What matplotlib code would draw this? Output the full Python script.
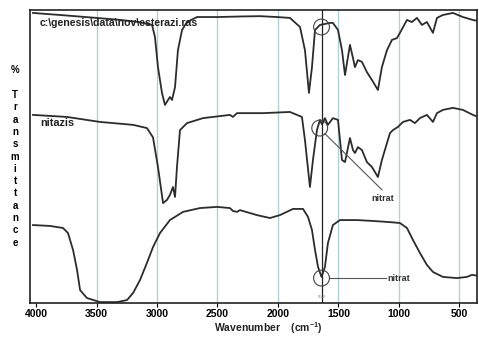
import matplotlib
matplotlib.use('Agg')
import matplotlib.pyplot as plt
import numpy as np

plt.rcParams['font.family'] = ['Liberation Sans', 'DejaVu Sans']
plt.rcParams['mathtext.default'] = 'regular'

# spectra: wavenumber (cm-1), % transmittance (arbitrary 0-100 scale)
ester_wn = [4025, 3900, 3800, 3650, 3500, 3300, 3150, 3041, 3017, 2992, 2959, 2934, 2909,
            2893, 2876, 2851, 2827, 2793, 2752, 2669, 2500, 2300, 2150, 2008, 1901, 1818,
            1777, 1744, 1719, 1694, 1653, 1570, 1546, 1504, 1471, 1446, 1405, 1380, 1364,
            1339, 1306, 1265, 1223, 1174, 1141, 1099, 1058, 1017, 992, 934, 893, 851, 810,
            769, 719, 686, 637, 554, 471, 389, 364]
ester_t = [99.0, 98.6, 98.3, 97.8, 97.3, 96.6, 95.9, 94.9, 90.8, 80.5, 71.7, 67.6, 69.3,
           70.3, 69.3, 73.7, 86.3, 93.2, 95.9, 97.6, 97.6, 97.8, 97.9, 97.6, 97.3, 94.2,
           86.3, 71.7, 80.5, 93.2, 94.9, 95.6, 95.6, 93.2, 86.3, 77.8, 88.1, 83.6, 80.5,
           82.9, 82.3, 78.8, 76.1, 72.7, 80.5, 86.3, 89.8, 90.4, 92.2, 96.6, 95.9, 97.3, 94.9,
           95.9, 92.2, 97.3, 98.3, 99.0, 97.6, 96.6, 96.4]

nitazis_wn = [4025, 3744, 3471, 3198, 3083, 3033, 2992, 2950, 2917, 2893, 2868, 2851, 2835,
              2810, 2752, 2620, 2397, 2372, 2339, 2124, 1901, 1802, 1777, 1736, 1711, 1678,
              1653, 1636, 1612, 1587, 1546, 1504, 1471, 1446, 1405, 1380, 1364, 1339, 1306,
              1265, 1223, 1174, 1141, 1099, 1074, 1050, 1008, 967, 909, 868, 827, 769, 719,
              686, 637, 554, 471, 389, 364]
nitazis_t = [64.2, 63.5, 61.8, 60.8, 59.7, 56.5, 46.4, 34.1, 35.2, 36.9, 39.6, 36.2, 46.4,
             59.0, 61.4, 63.1, 64.2, 63.5, 64.8, 64.8, 65.2, 63.5, 55.6, 39.6, 48.8, 59.0,
             62.5, 61.0, 63.1, 60.8, 63.1, 62.5, 48.8, 48.1, 56.3, 52.2, 51.2, 53.2, 52.2,
             48.1, 46.4, 43.0, 48.8, 54.6, 58.0, 59.0, 60.1, 61.8, 62.5, 61.4, 63.1, 64.2, 61.8,
             64.8, 65.9, 66.6, 65.9, 64.2, 63.8]

water_wn = [4025, 3884, 3777, 3736, 3694, 3661, 3636, 3579, 3471, 3331, 3248, 3198, 3141,
            3083, 3033, 2975, 2893, 2785, 2645, 2504, 2397, 2372, 2339, 2314, 2174, 2066,
            1984, 1876, 1793, 1752, 1719, 1694, 1669, 1640, 1612, 1587, 1546, 1488, 1347,
            1215, 1074, 992, 934, 884, 827, 769, 719, 637, 521, 438, 397, 364]
water_t = [26.6, 26.3, 25.6, 23.9, 18.1, 11.3, 4.4, 1.7, 0.3, 0.3, 1.0, 3.4, 7.8,
           13.7, 19.1, 23.9, 28.3, 31.1, 32.4, 32.8, 32.4, 31.4, 31.1, 31.7, 30.0, 29.0,
           30.0, 32.1, 32.1, 29.4, 24.9, 18.1, 12.3, 8.9, 12.3, 20.5, 26.6, 28.3, 28.3,
           28.0, 27.6, 27.3, 25.6, 21.5, 17.1, 13.0, 10.6, 8.9, 8.5, 8.9, 9.6, 9.4]

ticks = [4000, 3500, 3000, 2500, 2000, 1500, 1000, 500]
nitrate_wn = 1640

fig = plt.figure(figsize=(4.79, 3.37), dpi=100)
ax = fig.add_axes([0.0626, 0.1009, 0.9332, 0.8694])

for t in ticks[1:]:
    ax.axvline(t, color='#b4d0d6', lw=1.0, zorder=0)
ax.axvline(nitrate_wn, color='#222222', lw=0.9, zorder=1)

line_col = '#2c2c2c'
ax.plot(ester_wn, ester_t, color=line_col, lw=1.3)
ax.plot(nitazis_wn, nitazis_t, color=line_col, lw=1.3)
ax.plot(water_wn, water_t, color=line_col, lw=1.3)

# circled nitrate bands
ax.scatter([1640, 1655, 1640], [94.2, 59.7, 8.5], s=130, facecolors='none',
           edgecolors='#444444', linewidths=0.8, zorder=3)
ax.plot([1612, 1140], [57.8, 38.6], color='#555555', lw=0.8)
ax.plot([1575, 1110], [8.5, 8.5], color='#555555', lw=0.8)
ax.text(1132, 35.6, 'nitrat', fontsize=6.5, fontweight='bold', ha='center', va='center',
        color='#333333')
ax.text(1095, 8.5, 'nitrat', fontsize=6.5, fontweight='bold', ha='left', va='center',
        color='#333333')
ax.text(1640, 2.2, '1640', fontsize=2.5, ha='center', va='center', color='#777777')

ax.text(3967, 95.4, r'c:\genesis\data\nov\esterazi.ras', fontsize=7.6, fontweight='bold',
        ha='left', va='center', color='#222222')
ax.text(3967, 61.5, 'nitazis', fontsize=7.8, fontweight='bold', ha='left', va='center',
        color='#222222')

ax.set_xlim(4050, 355)
ax.set_ylim(0, 100)
ax.set_xticks(ticks)
ax.set_xticklabels([str(t) for t in ticks], fontweight='bold', fontsize=7.5)
ax.set_yticks([])
ax.tick_params(axis='x', length=3, width=0.8, pad=1.5)
for s in ax.spines.values():
    s.set_linewidth(1.2)
    s.set_color('#222222')

fig.text(0.56, 0.027, 'Wavenumber    (cm$^{-1}$)', fontsize=7.5, fontweight='bold',
         ha='center', va='center', color='#222222')

fig.text(15 / 479, 1 - 70 / 337, '%', fontsize=7, fontweight='bold', ha='center', va='center')
for i, ch in enumerate('Transmittance'):
    fig.text(15 / 479, 1 - (95 + i * 12.3) / 337, ch, fontsize=7, fontweight='bold',
             ha='center', va='center')

fig.savefig('out.png', dpi=100)
